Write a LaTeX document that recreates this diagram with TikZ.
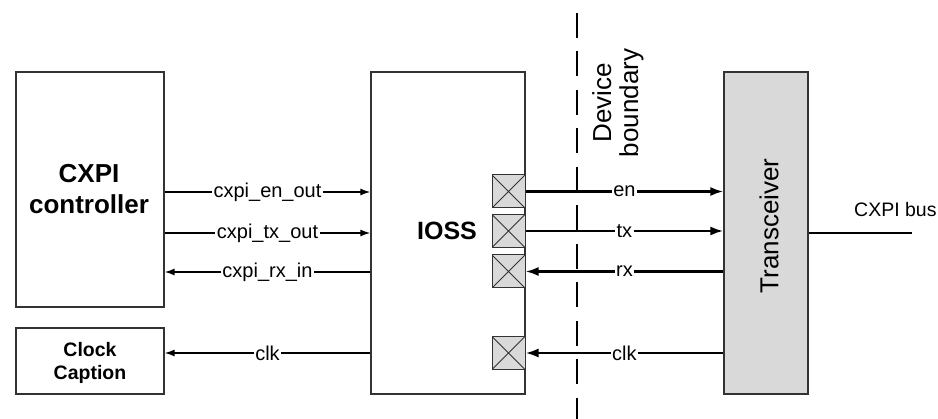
\documentclass[tikz,border=0pt]{standalone}
\usepackage{fontspec}
\setmainfont{Liberation Sans}
\usetikzlibrary{arrows.meta}
\definecolor{padgray}{HTML}{D9D9D9}
\definecolor{boxline}{HTML}{333333}
\tikzset{
  blk/.style={draw=boxline, line width=1.2pt, inner sep=0pt, align=center},
  padbox/.style={draw=boxline, line width=1pt, fill=padgray, minimum width=33pt, minimum height=33pt, inner sep=0pt,
    path picture={\draw[line width=0.8pt, boxline] (path picture bounding box.north west) -- (path picture bounding box.south east)
      (path picture bounding box.south west) -- (path picture bounding box.north east);}},
  thinsig/.style={line width=1.5pt, -{Latex[length=10pt,width=7pt]}},
  thicksig/.style={line width=2.4pt, -{Latex[length=13pt,width=9pt]}},
  thickline/.style={line width=2.4pt},
  lbl/.style={midway, fill=white, inner xsep=1.5pt, inner ysep=0pt, font=\fontsize{20}{22}\selectfont},
}
\begin{document}
\begin{tikzpicture}[x=1pt,y=-1pt]
\useasboundingbox (0,0) rectangle (938,419);
% blocks
\node[blk, minimum width=148pt, minimum height=235pt] (ctrl) at (90,189.5) {};
\node[font=\fontsize{26}{31}\selectfont\bfseries, align=center] (ctrltxt) at (89,189) {CXPI\\controller};
\node[blk, minimum width=148pt, minimum height=66pt] (clkc) at (90,361) {};
\node[font=\fontsize{19.5}{23}\selectfont\bfseries, align=center] (clktxt) at (90,363) {Clock\\Caption};
\node[blk, minimum width=154pt, minimum height=322pt] (ioss) at (448,233) {};
\node[font=\fontsize{25}{30}\selectfont\bfseries] (iosstxt) at (447,231) {IOSS};
\node[blk, fill=padgray, minimum width=84pt, minimum height=322pt] (trx) at (766,233) {};
\node[rotate=90, font=\fontsize{26}{30}\selectfont] (trxtxt) at (769,226) {Transceiver};
% pads
\node[padbox] (pen) at (508.5,191.5) {};
\node[padbox] (ptx) at (508.5,231) {};
\node[padbox] (prx) at (508.5,271.5) {};
\node[padbox] (pclk) at (508.5,353) {};
% device boundary
\coordinate (dbtop) at (577,13);
\coordinate (dbbot) at (577,419);
\draw[line width=2.8pt, dash pattern=on 25pt off 13.5pt] (dbtop) -- (dbbot);
\node[rotate=90, align=center, font=\fontsize{26}{27}\selectfont] (dbtxt) at (618,103) {Device\\boundary};
% left signals
\coordinate (yen) at (0,192);
\coordinate (ytx) at (0,233);
\coordinate (yrx) at (0,272);
\coordinate (yclk) at (0,353);
\draw[thinsig] (ctrl.east |- yen) -- node[lbl] {cxpi\_en\_out} (ioss.west |- yen);
\draw[thinsig] (ctrl.east |- ytx) -- node[lbl] {cxpi\_tx\_out} (ioss.west |- ytx);
\draw[thinsig] (ioss.west |- yrx) -- node[lbl] {cxpi\_rx\_in} (ctrl.east |- yrx);
\draw[thinsig] (ioss.west |- yclk) -- node[lbl] {clk} (clkc.east |- yclk);
% right signals
\draw[thicksig] (pen.east) -- node[lbl] {en} (trx.west |- pen.east);
\draw[thicksig] (ptx.east) -- node[lbl] {tx} (trx.west |- ptx.east);
\draw[thicksig] (trx.west |- prx.east) -- node[lbl] {rx} (prx.east);
\draw[thicksig] (trx.west |- pclk.east) -- node[lbl] {clk} (pclk.east);
% bus
\coordinate (busend) at (912,233);
\draw[thickline] (trx.east |- busend) -- (busend);
\node[anchor=base west, inner sep=0pt, font=\fontsize{19.5}{22}\selectfont] (bustxt) at (854,217) {CXPI bus};
\end{tikzpicture}
\end{document}
